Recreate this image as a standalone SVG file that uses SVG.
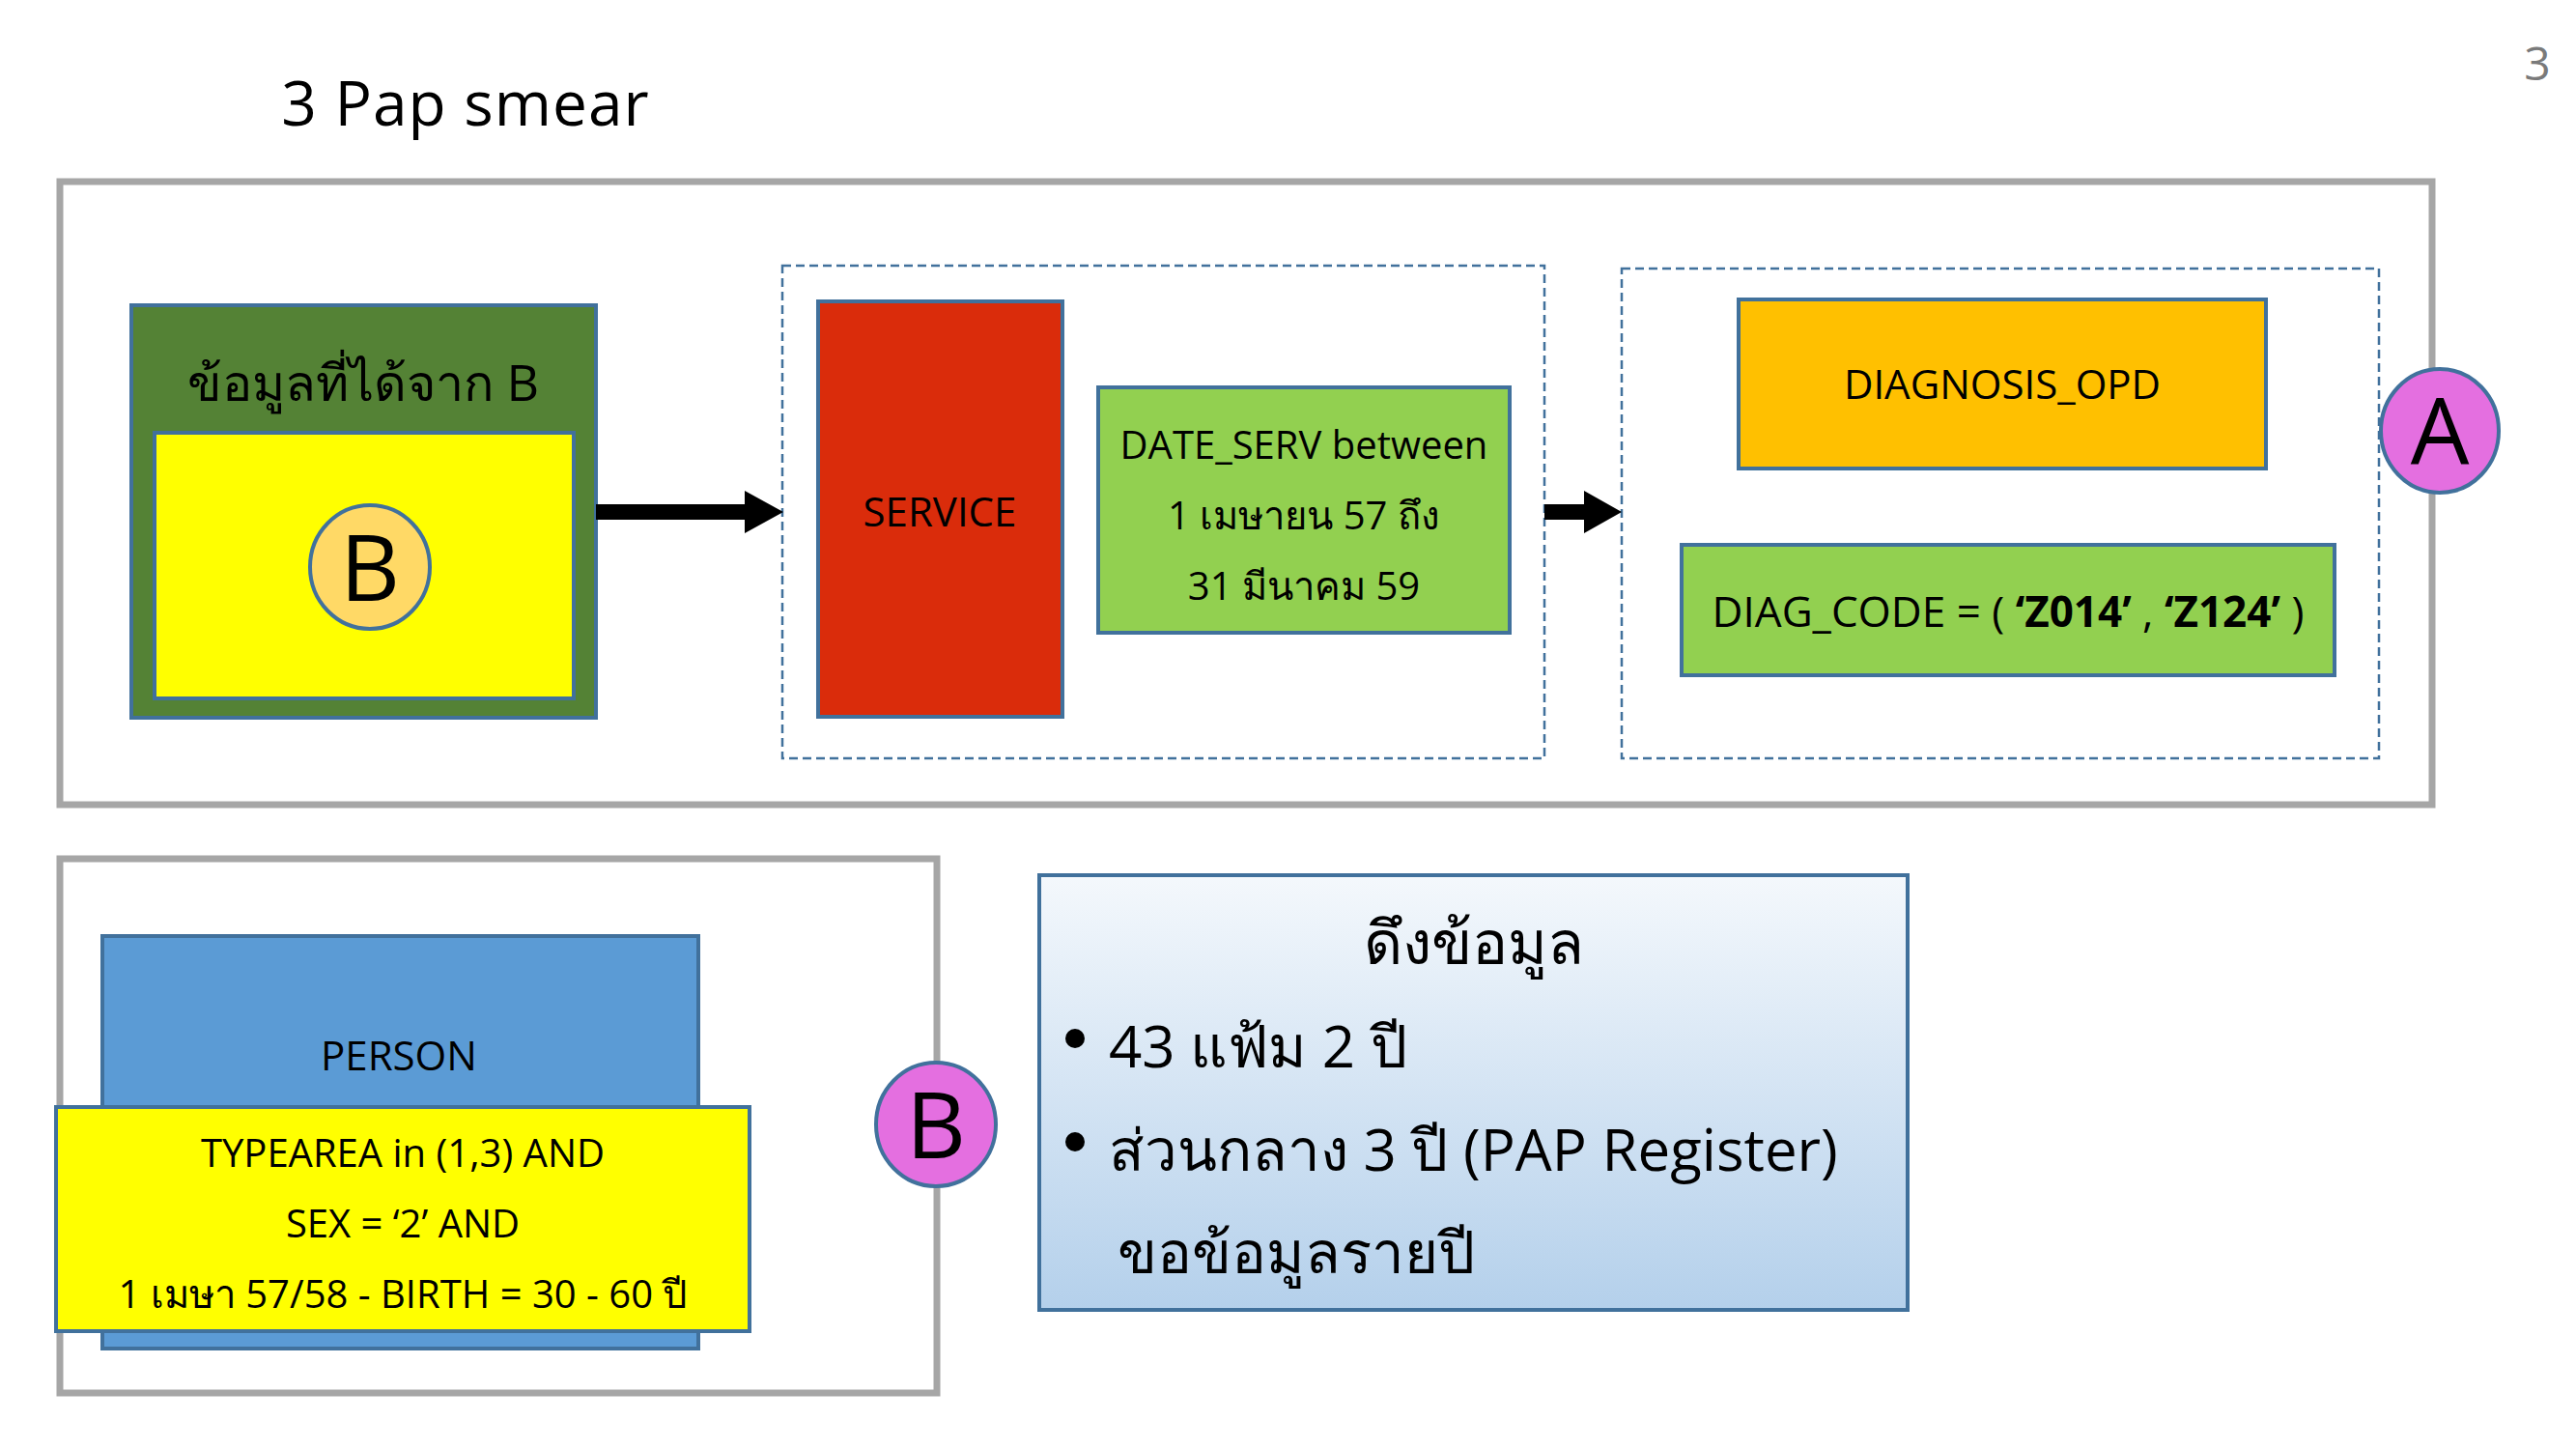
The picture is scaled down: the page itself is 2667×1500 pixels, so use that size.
<svg xmlns="http://www.w3.org/2000/svg" width="2667" height="1500" viewBox="0 0 2667 1500">
<defs>
<style>
text{font-family:"Open Sans","Noto Sans","DejaVu Sans",sans-serif;fill:#000;text-anchor:middle}
.frame{fill:#fff;stroke:#A6A6A6;stroke-width:7}
.dash{fill:none;stroke:#41719C;stroke-width:2.5;stroke-dasharray:9 5}
.box{stroke:#41719C;stroke-width:4}
.lbl{font-size:42px}
.big{font-size:96px}
.info{font-size:60px;text-anchor:start}
</style>
<linearGradient id="g1" x1="0" y1="0" x2="0" y2="1">
<stop offset="0" stop-color="#F4F8FC"/>
<stop offset="1" stop-color="#B4D0EB"/>
</linearGradient>
</defs>
<rect width="2667" height="1500" fill="#fff"/>
<text x="482" y="130" style="font-size:64px;letter-spacing:1px">3 Pap smear</text>
<text x="2627" y="83" style="font-size:48px;fill:#7A7A7A">3</text>

<rect class="frame" x="62" y="188" width="2456" height="645"/>
<rect class="frame" x="62" y="889" width="908" height="553"/>

<g id="group-service"><rect class="dash" x="810" y="275" width="789" height="510"/></g>
<g id="group-diag"><rect class="dash" x="1679" y="278" width="784" height="507"/></g>

<g id="node-fromB">
<rect class="box" x="136" y="316" width="481" height="427" fill="#548235"/>
<rect class="box" x="160" y="448" width="434" height="275" fill="#FFFF00"/>
<text x="376" y="415" style="font-size:52px">ข้อมูลที่ได้จาก B</text>
<ellipse class="box" cx="383" cy="587" rx="62" ry="64" fill="#FFD966" stroke-width="3"/>
<text x="383" y="622" class="big">B</text>
</g>

<g id="node-service">
<rect class="box" x="847" y="312" width="253" height="430" fill="#DA2C0B"/>
<text x="973" y="545" class="lbl">SERVICE</text>
</g>

<g id="node-dateserv">
<rect class="box" x="1137" y="401" width="426" height="254" fill="#92D050"/>
<text x="1350" y="475" style="font-size:40px">DATE_SERV between</text>
<text x="1350" y="548" style="font-size:40px">1 เมษายน 57 ถึง</text>
<text x="1350" y="621" style="font-size:40px">31 มีนาคม 59</text>
</g>

<g id="node-diagnosis">
<rect class="box" x="1800" y="310" width="546" height="175" fill="#FFC000"/>
<text x="2073" y="413" class="lbl">DIAGNOSIS_OPD</text>
</g>

<g id="node-diagcode">
<rect class="box" x="1741" y="564" width="676" height="135" fill="#92D050"/>
<text x="2079" y="649" style="font-size:44px">DIAG_CODE = ( <tspan font-weight="bold">‘Z014’</tspan> , <tspan font-weight="bold">‘Z124’</tspan> )</text>
</g>

<g id="node-A">
<ellipse class="box" cx="2526" cy="446" rx="61" ry="64" fill="#E46FE0" stroke-width="3"/>
<text x="2526" y="481" class="big">A</text>
</g>

<g id="node-person">
<rect class="box" x="106" y="969" width="617" height="427" fill="#5B9BD5"/>
<text x="413" y="1108" class="lbl">PERSON</text>
</g>

<g id="node-typearea">
<rect class="box" x="58" y="1146" width="718" height="232" fill="#FFFF00"/>
<text x="417" y="1208" style="font-size:40px">TYPEAREA in (1,3) AND</text>
<text x="417" y="1281" style="font-size:40px">SEX = ‘2’ AND</text>
<text x="417" y="1354" style="font-size:40px">1 เมษา 57/58 - BIRTH = 30 - 60 ปี</text>
</g>

<g id="node-B">
<ellipse class="box" cx="969" cy="1164" rx="62" ry="64" fill="#E46FE0" stroke-width="3"/>
<text x="969" y="1199" class="big">B</text>
</g>

<g id="node-info">
<rect x="1076" y="906" width="899" height="450" fill="url(#g1)" stroke="#41719C" stroke-width="4"/>
<text x="1526" y="998" style="font-size:62px">ดึงข้อมูล</text>
<circle cx="1113" cy="1075" r="10" fill="#000"/>
<text x="1148" y="1105" class="info">43 แฟ้ม 2 ปี</text>
<circle cx="1113" cy="1182" r="10" fill="#000"/>
<text x="1148" y="1212" class="info">ส่วนกลาง 3 ปี (PAP Register)</text>
<text x="1157" y="1318" class="info">ขอข้อมูลรายปี</text>
</g>

<g id="connectors" fill="#000">
<polygon points="617,522 771,522 771,508 811,530 771,552 771,538 617,538"/>
<polygon points="1599,522 1640,522 1640,508 1679,530 1640,552 1640,538 1599,538"/>
</g>
</svg>
